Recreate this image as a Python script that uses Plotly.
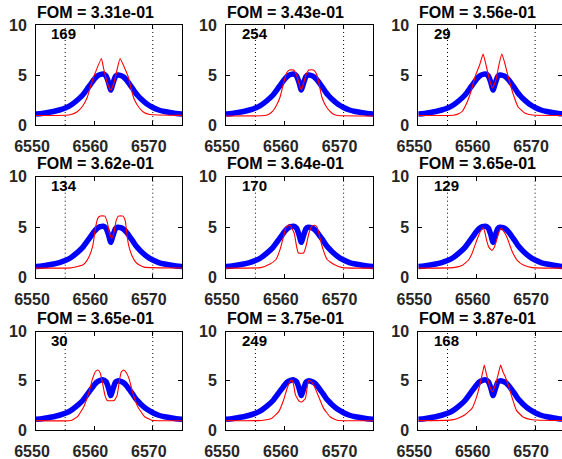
import plotly.graph_objects as go
from plotly.subplots import make_subplots

# Observed profile (blue), identical in every panel
blue_x = [6550, 6551, 6552, 6553, 6554, 6555, 6556, 6557, 6558, 6559, 6559.5, 6560, 6560.5,
          6561, 6561.5, 6562, 6562.4, 6562.8, 6563.2, 6563.6, 6564, 6564.5, 6565, 6565.5,
          6566, 6566.5, 6567, 6567.5, 6568, 6569, 6570, 6571, 6572, 6573, 6574, 6575, 6576]
blue_y = [1.1, 1.15, 1.25, 1.35, 1.5, 1.7, 2.0, 2.45, 3.0, 3.8, 4.2, 4.6, 4.9,
          5.05, 5.1, 4.9, 4.3, 3.5, 4.2, 4.85, 5.0, 4.95, 4.8, 4.5,
          4.1, 3.7, 3.25, 2.9, 2.6, 2.1, 1.75, 1.5, 1.35, 1.25, 1.15, 1.1, 1.08]

# Model profiles (red), one per panel
red_x_169 = [6550, 6555, 6556, 6557, 6558, 6558.8, 6559.4, 6560.2, 6561.2, 6561.6, 6562.2, 6562.8,
             6563.4, 6563.9, 6564.4, 6565.1, 6565.8, 6566.3, 6566.8, 6567.7, 6568.5, 6569.5, 6576]
red_y_169 = [0.95, 0.97, 1.05, 1.3, 1.9, 2.8, 4.0, 5.3, 6.65, 5.6, 4.2, 3.5,
             4.3, 5.6, 6.65, 5.8, 4.8, 3.6, 2.6, 1.7, 1.25, 1.05, 0.95]

red_x_254 = [6550, 6556, 6557, 6557.6, 6558.1, 6558.7, 6559.2, 6559.8, 6560.3, 6560.8, 6561.5, 6562.0,
             6562.4, 6562.8, 6563.2, 6563.6, 6564.1, 6564.9, 6565.4, 6565.8, 6566.3, 6566.8, 6567.2,
             6567.8, 6568.3, 6569, 6576]
red_y_254 = [0.9, 0.92, 1.0, 1.2, 1.5, 2.1, 2.8, 4.2, 5.2, 5.5, 5.5, 5.0,
             4.2, 3.5, 4.2, 5.0, 5.5, 5.5, 5.1, 4.2, 2.8, 2.1, 1.7,
             1.3, 1.07, 0.95, 0.9]

red_x_29 = [6550, 6556, 6557, 6557.5, 6558.3, 6559.1, 6559.7, 6560.5, 6561.1, 6561.6, 6562.2, 6562.7,
            6563.3, 6563.8, 6564.3, 6564.8, 6565.4, 6566.3, 6567.1, 6568.3, 6569.5, 6576]
red_y_29 = [0.95, 0.97, 1.15, 1.35, 2.2, 3.5, 4.8, 6.0, 7.1, 6.0, 4.5, 3.7,
            4.5, 6.0, 7.1, 6.2, 4.8, 3.0, 1.8, 1.17, 1.0, 0.95]

red_x_134 = [6550, 6556, 6557, 6558, 6558.6, 6559.1, 6559.5, 6559.8, 6560.2, 6560.6, 6561.0, 6561.8,
             6562.2, 6562.6, 6563.0, 6563.4, 6563.7, 6564.1, 6564.9, 6565.3, 6565.5, 6565.8, 6566.1,
             6566.5, 6567.0, 6567.7, 6568.5, 6576]
red_y_134 = [0.95, 0.97, 1.1, 1.25, 1.6, 2.1, 2.7, 3.4, 5.0, 5.9, 6.1, 6.1,
             5.5, 4.4, 3.9, 4.6, 5.6, 6.1, 6.1, 5.6, 4.6, 3.4, 2.7,
             2.1, 1.6, 1.25, 1.05, 0.95]

red_x_170 = [6550, 6555.9, 6557.3, 6558.5, 6559.2, 6559.8, 6560.2, 6560.6, 6561.0, 6561.6, 6562.0, 6562.3,
             6563.2, 6563.6, 6564.1, 6564.6, 6565.1, 6565.5, 6565.9, 6566.5, 6567.2, 6568.4, 6569.8, 6576]
red_y_170 = [0.95, 1.0, 1.3, 1.8, 2.8, 4.1, 5.0, 5.2, 5.1, 4.4, 3.1, 2.45,
             2.45, 3.1, 4.4, 5.1, 5.2, 5.0, 4.1, 2.8, 1.8, 1.3, 1.0, 0.95]

red_x_129 = [6550, 6556, 6557.5, 6558.6, 6559.2, 6559.7, 6560.2, 6560.6, 6561.1, 6561.4, 6561.7, 6562.1,
             6562.6, 6563.0, 6563.4, 6563.8, 6564.2, 6564.6, 6565.1, 6565.5, 6566.0, 6566.9, 6568,
             6569.5, 6576]
red_y_129 = [0.95, 1.0, 1.2, 1.75, 2.4, 3.2, 4.0, 4.55, 4.95, 4.5, 3.7, 3.0,
             2.7, 3.0, 3.7, 4.5, 4.9, 4.6, 4.1, 3.5, 2.7, 1.75, 1.25,
             1.0, 0.95]

red_x_30 = [6550, 6556, 6557.1, 6558.2, 6559.1, 6559.7, 6560.2, 6560.6, 6561.0, 6561.4, 6561.8, 6562.2,
            6563.4, 6563.9, 6564.3, 6564.6, 6565.0, 6565.5, 6566.0, 6566.5, 6567.4, 6568.6, 6569.8, 6576]
red_y_30 = [0.95, 0.97, 1.35, 2.4, 3.9, 5.25, 5.95, 6.1, 5.8, 4.75, 3.55, 3.0,
            3.0, 3.55, 5.1, 5.9, 6.1, 5.8, 5.1, 3.9, 2.4, 1.35, 1.0, 0.95]

red_x_249 = [6550, 6556, 6557.8, 6559, 6559.8, 6560.4, 6560.9, 6561.2, 6561.5, 6561.8, 6562.4, 6562.9,
             6563.5, 6563.8, 6564.05, 6564.4, 6564.9, 6565.75, 6566.6, 6567.7, 6568.9, 6576]
red_y_249 = [0.95, 0.97, 1.2, 1.9, 3.05, 4.25, 4.95, 5.1, 4.6, 3.6, 2.95, 2.85,
             3.2, 4.3, 5.05, 5.0, 4.6, 3.4, 2.2, 1.35, 1.0, 0.95]

red_x_168 = [6550, 6555.4, 6556.6, 6558.0, 6559.2, 6560.0, 6560.6, 6561.0, 6561.3, 6561.7, 6562.2, 6562.7,
             6563.2, 6563.7, 6564.1, 6564.5, 6564.9, 6565.4, 6566.0, 6566.8, 6568, 6569.5, 6576]
red_y_168 = [0.95, 1.0, 1.15, 1.55, 2.2, 3.4, 4.75, 5.8, 6.6, 5.6, 4.5, 3.9,
             4.6, 5.7, 6.6, 5.9, 5.4, 4.6, 3.4, 2.0, 1.3, 1.05, 0.95]

run_ids = ["169", "254", "29", "134", "170", "129", "30", "249", "168"]
fom_values = ["3.31e-01", "3.43e-01", "3.56e-01", "3.62e-01", "3.64e-01",
              "3.65e-01", "3.65e-01", "3.75e-01", "3.87e-01"]
red_x = [red_x_169, red_x_254, red_x_29, red_x_134, red_x_170, red_x_129, red_x_30, red_x_249, red_x_168]
red_y = [red_y_169, red_y_254, red_y_29, red_y_134, red_y_170, red_y_129, red_y_30, red_y_249, red_y_168]

x_ticks = [6550, 6560, 6570]
y_ticks = [0, 5, 10]
line_marks = [6555, 6570]

W, H = 562, 459
x_px = [(36, 182), (226, 373), (418.3, 562)]
y_px = [(25, 125), (176.7, 277.7), (331.7, 430)]
px_per_A = 5.84

fig = make_subplots(rows=3, cols=3)
font = "Liberation Sans"
annotations = []
shapes = []
for i in range(9):
    r, c = divmod(i, 3)
    k = i + 1
    fig.add_trace(go.Scatter(x=blue_x, y=blue_y, mode="lines",
                             line=dict(color="#0000ff", width=5.5, shape="spline", smoothing=0.5),
                             showlegend=False), row=r + 1, col=c + 1)
    fig.add_trace(go.Scatter(x=red_x[i], y=red_y[i], mode="lines",
                             line=dict(color="#ff0000", width=1.1, shape="spline", smoothing=0.4),
                             showlegend=False), row=r + 1, col=c + 1)
    x0, x1 = x_px[c]
    y0, y1 = y_px[r]
    xend = 6550 + (x1 - x0) / px_per_A if c == 2 else 6575
    ax = dict(domain=[x0 / W, min(x1 / W, 1.0)], range=[6550, xend], tickvals=x_ticks,
              showline=True, mirror="ticks", linecolor="black", linewidth=1,
              ticks="inside", ticklen=4, tickcolor="black", showgrid=False, zeroline=False,
              automargin=False,
              tickfont=dict(family=font, size=16, color="#262626", weight="bold"),
              ticklabelstandoff=7, ticklabelshift=-4)
    ay = dict(domain=[1 - y1 / H, 1 - y0 / H], range=[0, 10], tickvals=y_ticks,
              showline=True, mirror="ticks", linecolor="black", linewidth=1,
              ticks="inside", ticklen=4, tickcolor="black", showgrid=False, zeroline=False,
              automargin=False,
              tickfont=dict(family=font, size=16, color="#262626", weight="bold"),
              ticklabelstandoff=5)
    fig.layout["xaxis" + ("" if k == 1 else str(k))].update(ax)
    fig.layout["yaxis" + ("" if k == 1 else str(k))].update(ay)
    xr = "x" if k == 1 else f"x{k}"
    yr = "y" if k == 1 else f"y{k}"
    for xv in line_marks:
        shapes.append(dict(type="line", xref=xr, yref=yr, x0=xv, x1=xv, y0=0, y1=10,
                           line=dict(color="black", width=1, dash="1px,3px"), layer="below"))
    annotations.append(dict(xref=xr, yref="paper", x=6560.2, y=1 - (y0 - 13) / H,
                            text="FOM = " + fom_values[i], showarrow=False,
                            xanchor="center", yanchor="middle",
                            font=dict(family=font, size=16, color="black", weight="bold")))
    annotations.append(dict(xref=xr, yref=yr, x=6552.3, y=9.1, text=run_ids[i],
                            showarrow=False, xanchor="left", yanchor="middle",
                            font=dict(family=font, size=15, color="black", weight="bold")))

fig.update_layout(template="none", width=W, height=H, margin=dict(l=0, r=0, t=0, b=0, pad=0),
                  paper_bgcolor="white", plot_bgcolor="white",
                  annotations=annotations, shapes=shapes, showlegend=False)
fig.write_html("out.html")
